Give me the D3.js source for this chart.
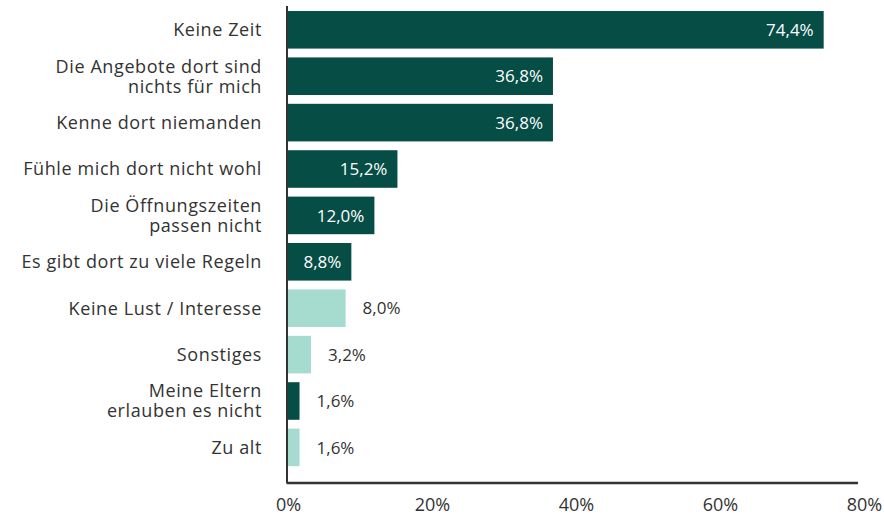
<!DOCTYPE html>
<html>
<head>
<meta charset="utf-8">
<script src="https://cdn.jsdelivr.net/npm/d3@7"></script>
<style>
  body { margin: 0; background: #fff; }
  text { font-family: "Open Sans", sans-serif; }
</style>
</head>
<body>
<div id="chart"></div>
<script>
var svgWidth = 884;
var svgHeight = 515;

// data
var categories = [
  ["Keine Zeit"],
  ["Die Angebote dort sind", "nichts für mich"],
  ["Kenne dort niemanden"],
  ["Fühle mich dort nicht wohl"],
  ["Die Öffnungszeiten", "passen nicht"],
  ["Es gibt dort zu viele Regeln"],
  ["Keine Lust / Interesse"],
  ["Sonstiges"],
  ["Meine Eltern", "erlauben es nicht"],
  ["Zu alt"]
];
var values = [74.4, 36.8, 36.8, 15.2, 12.0, 8.8, 8.0, 3.2, 1.6, 1.6];
var groups = ["a", "a", "a", "a", "a", "a", "b", "b", "a", "b"];
var xTicks = [0, 20, 40, 60, 80];

var colors = { a: "#054d45", b: "#a6dbd0" };

var axisY = 483;

var svg = d3.select("#chart")
  .append("svg")
  .attr("width", svgWidth)
  .attr("height", svgHeight);

var x = d3.scaleLinear()
  .domain([0, 80])
  .range([288, 864]);

var y = d3.scaleBand()
  .domain(d3.range(values.length))
  .range([2.2, 475])
  .paddingInner(0.19)
  .paddingOuter(0.19);

// bars
svg.selectAll("rect.bar")
  .data(values)
  .enter()
  .append("rect")
  .attr("class", "bar")
  .attr("x", x(0))
  .attr("y", (d, i) => y(i))
  .attr("width", d => x(d) - x(0))
  .attr("height", y.bandwidth())
  .attr("fill", (d, i) => colors[groups[i]]);

// value labels: inside for the long dark bars, outside otherwise
var fmt = v => v.toFixed(1).replace(".", ",") + "%";
var inside = d => d > 8.5;
svg.selectAll("text.val")
  .data(values)
  .enter()
  .append("text")
  .attr("class", "val")
  .attr("x", d => inside(d) ? x(d) - 10 : x(d) + 17)
  .attr("y", (d, i) => y(i) + y.bandwidth() / 2)
  .attr("dy", "0.36em")
  .attr("text-anchor", d => inside(d) ? "end" : "start")
  .attr("fill", d => inside(d) ? "#fff" : "#333")
  .style("font-size", "17px")
  .text(fmt);

// category labels
var catSize = 18;
var catLabels = svg.selectAll("text.cat")
  .data(categories)
  .enter()
  .append("text")
  .attr("class", "cat")
  .attr("x", 262)
  .attr("y", (d, i) => y(i) + y.bandwidth() / 2)
  .attr("text-anchor", "end")
  .attr("fill", "#333")
  .style("font-size", catSize + "px")
  .style("letter-spacing", "0.6px");

catLabels.selectAll("tspan")
  .data(d => d)
  .enter()
  .append("tspan")
  .attr("x", 262)
  .attr("dy", (t, j, nodes) => {
    var n = nodes.length;
    return j === 0 ? (0.36 * catSize - (n - 1) * 10) + "px" : "20px";
  })
  .text(t => t);

// axes
var xAxis = d3.axisBottom(x)
  .tickValues(xTicks)
  .tickSize(0)
  .tickFormat(d => d + "%");

var gx = svg.append("g")
  .attr("transform", `translate(0, ${axisY})`)
  .call(xAxis);
gx.select(".domain").remove();
gx.selectAll("text")
  .attr("y", 28)
  .attr("dy", 0)
  .attr("fill", "#333")
  .style("font-size", "18px")
  .style("font-family", "\"Open Sans\", sans-serif");

svg.append("line")
  .attr("x1", 286.5).attr("x2", 858)
  .attr("y1", axisY).attr("y2", axisY)
  .attr("stroke", "#333")
  .attr("stroke-width", 2.5);

svg.append("line")
  .attr("x1", 287).attr("x2", 287)
  .attr("y1", 6).attr("y2", axisY)
  .attr("stroke", "#333")
  .attr("stroke-width", 2);
</script>
</body>
</html>
